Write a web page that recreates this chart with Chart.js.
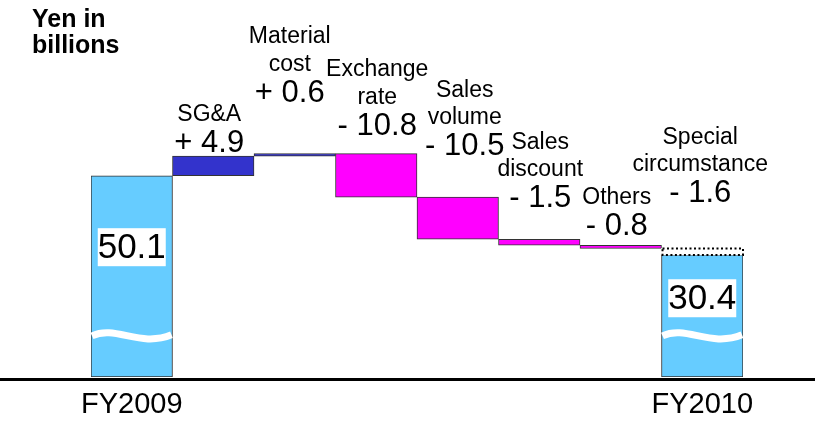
<!DOCTYPE html>
<html>
<head>
<meta charset="utf-8">
<script src="https://cdn.jsdelivr.net/npm/chart.js@4.4.0/dist/chart.umd.min.js"></script>
<style>
  html, body { margin: 0; padding: 0; background: #ffffff; }
  #wrap { width: 815px; height: 421px; position: relative; }
</style>
</head>
<body>
<div id="wrap"><canvas id="chart" width="815" height="421"></canvas></div>
<script>
// Operating income bridge, FY2009 -> FY2010 (yen in billions)
const categories = ['FY2009', 'SG&A', 'Material cost', 'Exchange rate', 'Sales volume', 'Sales discount', 'Others', 'FY2010'];
const tickLabels = ['FY2009', '', '', '', '', '', '', 'FY2010'];
const startTotal = 50.1;
const endTotal = 30.4;
const changeNames = [['SG&A'], ['Material', 'cost'], ['Exchange', 'rate'], ['Sales', 'volume'], ['Sales', 'discount'], ['Others'], ['Special', 'circumstance']];
const changes = [4.9, 0.6, -10.8, -10.5, -1.5, -0.8, -1.6];

const FONT = '"Liberation Sans", Arial, Helvetica, sans-serif';
const COL_TOTAL = '#66CCFF';
const COL_UP = '#3333CC';
const COL_DOWN = '#FF00FF';

// Floating ranges: totals from zero, steps from the running total.
// The last change (special circumstance) shares the FY2010 column.
const stepRanges = [];
const stepColors = [];
let running = startTotal;
stepRanges.push([0, startTotal]);
stepColors.push(COL_TOTAL);
for (let i = 0; i < changes.length - 1; i++) {
  const next = running + changes[i];
  stepRanges.push([Math.min(running, next), Math.max(running, next)]);
  stepColors.push(changes[i] >= 0 ? COL_UP : COL_DOWN);
  running = next;
}
stepRanges.push([0, endTotal]);
stepColors.push(COL_TOTAL);

const lastChange = changes[changes.length - 1];
const specialRanges = categories.map((c, i) =>
  i === categories.length - 1 ? [Math.min(running, running + lastChange), Math.max(running, running + lastChange)] : null);

// Label block placement: lift of value text above its bar top, horizontal nudge
const labelLift = [4, 52, 19, 42, 32, 10, 46];
const labelNudge = [-4, -5, 1, 7, 1, -4, -2];

function fmtChange(v) {
  return (v >= 0 ? '+ ' : '- ') + Math.abs(v).toFixed(1);
}

const bridgePlugin = {
  id: 'bridge',
  afterDatasetsDraw(chart) {
    const ctx = chart.ctx;
    const ys = chart.scales.y;
    const steps = chart.getDatasetMeta(0).data;
    const special = chart.getDatasetMeta(1).data[categories.length - 1];

    ctx.save();

    // dotted outline for the special circumstance step
    {
      const l = special.x - special.width / 2, r = special.x + special.width / 2;
      const t = Math.min(special.y, special.base), b = Math.max(special.y, special.base);
      ctx.strokeStyle = '#000';
      ctx.lineWidth = 2;
      ctx.setLineDash([2, 2.5]);
      ctx.strokeRect(l + 1, t, r - l - 1, b - t);
      ctx.setLineDash([]);
    }

    // axis break waves and value boxes on the total bars
    const totals = [[0, startTotal], [categories.length - 1, endTotal]];
    totals.forEach(([idx, val]) => {
      const el = steps[idx];
      const l = el.x - el.width / 2 + 1, r = el.x + el.width / 2 - 1, w = r - l;
      const yc = ys.getPixelForValue(10);
      ctx.beginPath();
      ctx.moveTo(l, yc - 1);
      ctx.bezierCurveTo(l + w * 0.3, yc - 12, l + w * 0.6, yc + 11, r, yc - 2);
      ctx.strokeStyle = '#ffffff';
      ctx.lineWidth = 7;
      ctx.stroke();

      const top = Math.min(el.y, el.base), base = Math.max(el.y, el.base);
      const cy = base - 0.645 * (base - top);
      ctx.fillStyle = '#ffffff';
      ctx.fillRect(el.x - 34, cy - 19, 68, 38);
      ctx.fillStyle = '#000';
      ctx.font = '35px ' + FONT;
      ctx.textAlign = 'center';
      ctx.textBaseline = 'middle';
      ctx.fillText(val.toFixed(1), el.x, cy + 1);
    });

    // change labels above each step
    changes.forEach((v, i) => {
      const el = i < changes.length - 1 ? steps[i + 1] : special;
      const top = Math.min(el.y, el.base);
      const x = el.x + labelNudge[i];
      const valueY = top - labelLift[i];
      ctx.fillStyle = '#000';
      ctx.textAlign = 'center';
      ctx.textBaseline = 'alphabetic';
      ctx.font = '31px ' + FONT;
      ctx.fillText(fmtChange(v), x, valueY);
      ctx.font = '23px ' + FONT;
      const lines = changeNames[i];
      lines.forEach((line, k) => {
        const y = valueY - 31 - (lines.length - 1 - k) * 27.5;
        ctx.fillText(line, x, y);
      });
    });

    // baseline across the full width
    const by = ys.getPixelForValue(0) + 2.5;
    ctx.strokeStyle = '#000';
    ctx.lineWidth = 3;
    ctx.beginPath();
    ctx.moveTo(0, by);
    ctx.lineTo(chart.width, by);
    ctx.stroke();

    // unit caption
    ctx.fillStyle = '#000';
    ctx.font = 'bold 25px ' + FONT;
    ctx.textAlign = 'left';
    ctx.textBaseline = 'alphabetic';
    ctx.fillText('Yen in', 32, 27);
    ctx.fillText('billions', 32, 53);

    ctx.restore();
  }
};

new Chart(document.getElementById('chart'), {
  type: 'bar',
  data: {
    labels: categories,
    datasets: [
      {
        label: 'Bridge',
        data: stepRanges,
        backgroundColor: stepColors,
        borderColor: '#333333',
        borderWidth: 1,
        borderSkipped: false,
        grouped: false,
        barPercentage: 1,
        categoryPercentage: 1,
        order: 1
      },
      {
        label: 'Special circumstance',
        data: specialRanges,
        backgroundColor: '#ffffff',
        borderWidth: 0,
        grouped: false,
        barPercentage: 1,
        categoryPercentage: 1,
        order: 0
      }
    ]
  },
  options: {
    responsive: false,
    animation: false,
    layout: { padding: { left: 91, right: 72, top: 136, bottom: 0 } },
    plugins: {
      legend: { display: false },
      tooltip: { enabled: false },
      title: { display: false }
    },
    scales: {
      x: {
        grid: { display: true, drawOnChartArea: false, drawTicks: true, tickLength: 12, color: 'rgba(0,0,0,0)' },
        border: { display: false },
        ticks: {
          autoSkip: false,
          maxRotation: 0,
          padding: 1.5,
          color: '#000',
          font: { family: FONT, size: 29, lineHeight: 1.0 },
          callback: (v, i) => tickLabels[i]
        }
      },
      y: {
        display: false,
        min: 0,
        max: 60
      }
    }
  },
  plugins: [bridgePlugin]
});
</script>
</body>
</html>
